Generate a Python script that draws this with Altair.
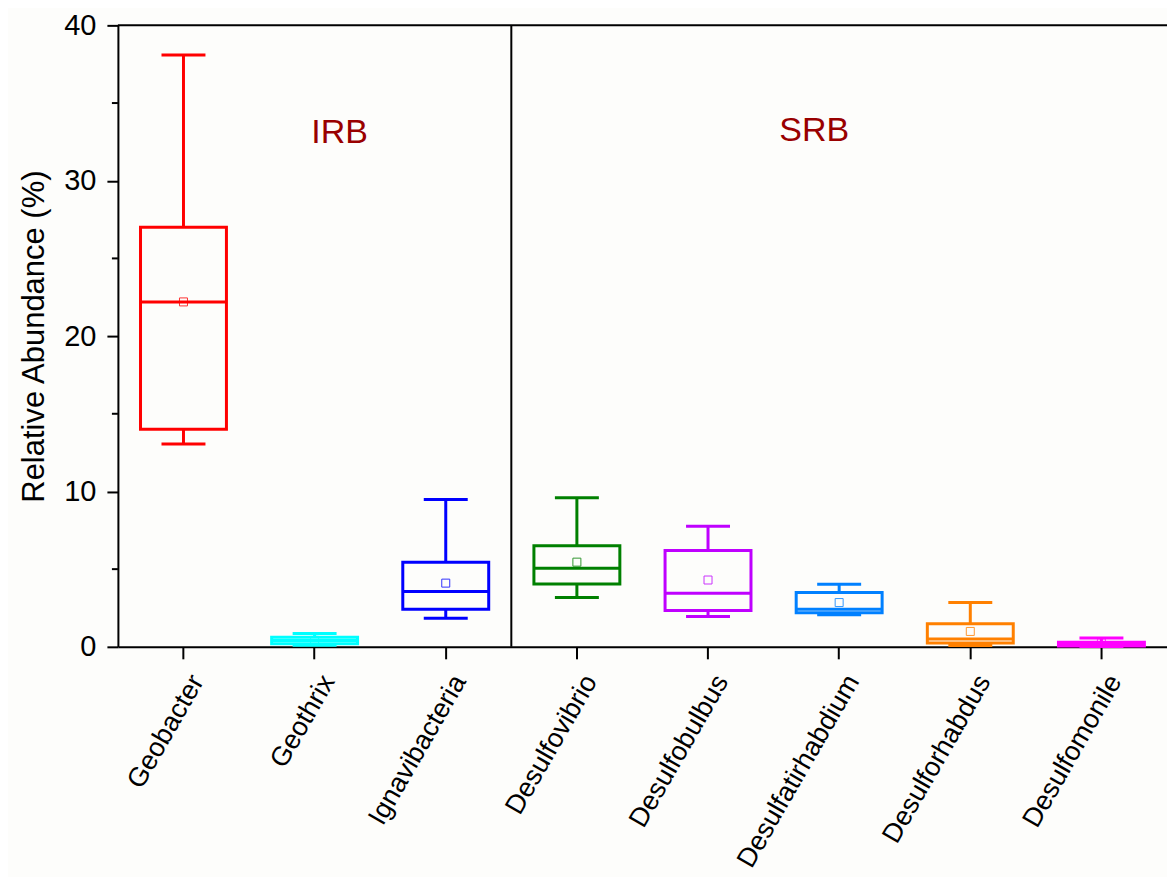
import altair as alt
import pandas as pd

categories = ["Geobacter", "Geothrix", "Ignavibacteria", "Desulfovibrio",
              "Desulfobulbus", "Desulfatirhabdium", "Desulforhabdus", "Desulfomonile"]
whisker_low = [13.05, 0.10, 1.84, 3.17, 1.95, 2.06, 0.08, 0.02]
q1 = [14.0, 0.20, 2.42, 4.05, 2.33, 2.20, 0.24, 0.06]
median = [22.2, 0.40, 3.56, 5.06, 3.45, 2.42, 0.50, 0.20]
q3 = [27.0, 0.62, 5.45, 6.50, 6.20, 3.50, 1.48, 0.30]
whisker_high = [38.1, 0.86, 9.49, 9.60, 7.76, 4.03, 2.85, 0.56]
mean = [22.2, 0.42, 4.10, 5.45, 4.30, 2.85, 0.99, 0.25]
colors = ["#FF0000", "#00FFFF", "#0000FF", "#008000",
          "#BF00FF", "#0080FF", "#FF8000", "#FF00FF"]
group_labels = ["IRB", "SRB"]
group_anchor = ["Geothrix", "Desulfatirhabdium"]
group_y = [33.1, 33.2]
minor_ticks = [5, 15, 25, 35]

df = pd.DataFrame({"cat": categories, "lo": whisker_low, "q1": q1, "med": median,
                   "q3": q3, "hi": whisker_high, "mean": mean})

FONT = "Liberation Sans"
xenc = alt.X("cat:N", sort=categories,
             scale=alt.Scale(domain=categories, paddingInner=0, paddingOuter=0),
             axis=alt.Axis(title=None, labelAngle=-60, labelAlign="right", labelBaseline="middle",
                           labelFont=FONT, labelFontSize=27, labelColor="black",
                           labelPadding=18, labelOffset=14, tickSize=12, tickWidth=2, tickColor="black",
                           domainColor="black", domainWidth=2, labelLimit=500))
yscale = alt.Scale(domain=[0, 40], nice=False, zero=True)
stroke = alt.Stroke("cat:N", scale=alt.Scale(domain=categories, range=colors), legend=None)
color = alt.Color("cat:N", scale=alt.Scale(domain=categories, range=colors), legend=None)
xs = alt.X("cat:N", sort=categories)

base = alt.Chart(df)

boxes = base.mark_bar(size=86, fill="transparent", strokeWidth=3).encode(
    x=xenc,
    y=alt.Y("q1:Q", scale=yscale,
            axis=alt.Axis(title="Relative Abundance (%)", values=[0, 10, 20, 30, 40],
                          labelFont=FONT, labelFontSize=29, labelColor="black",
                          titleFont=FONT, titleFontSize=31, titleFontWeight="normal",
                          titleColor="black", titlePadding=13,
                          tickSize=11, tickWidth=2, tickColor="black",
                          domainColor="black", domainWidth=2, grid=False, labelPadding=11)),
    y2="q3:Q",
    stroke=stroke,
)
upper = base.mark_rule(strokeWidth=3).encode(x=xs, y="q3:Q", y2="hi:Q", stroke=stroke)
lower = base.mark_rule(strokeWidth=3).encode(x=xs, y="lo:Q", y2="q1:Q", stroke=stroke)
cap_hi = base.mark_tick(size=44, thickness=3, opacity=1).encode(x=xs, y="hi:Q", color=color)
cap_lo = base.mark_tick(size=44, thickness=3, opacity=1).encode(x=xs, y="lo:Q", color=color)
med = base.mark_tick(size=86, thickness=3, opacity=1).encode(x=xs, y="med:Q", color=color)
mean_pt = base.mark_point(shape="square", size=64, filled=False, strokeWidth=1, opacity=0.8).encode(
    x=xs, y="mean:Q", stroke=stroke)

divider = alt.Chart(pd.DataFrame({"cat": ["Desulfovibrio"]})).mark_rule(color="black", strokeWidth=2).encode(
    x=alt.X("cat:N", sort=categories, bandPosition=0))
top_line = alt.Chart(pd.DataFrame({"v": [40]})).mark_rule(color="black", strokeWidth=2).encode(y="v:Q")
minor = alt.Chart(pd.DataFrame({"v": minor_ticks})).mark_rule(color="black", strokeWidth=2).encode(
    y="v:Q", x=alt.value(-6), x2=alt.value(0))

gdf = pd.DataFrame({"cat": group_anchor, "label": group_labels, "y": group_y})
text1 = alt.Chart(gdf.iloc[[0]]).mark_text(font=FONT, fontSize=34, color="#990000", dx=25).encode(
    x=xs, y="y:Q", text="label:N")
text2 = alt.Chart(gdf.iloc[[1]]).mark_text(font=FONT, fontSize=34, color="#990000", dx=-25).encode(
    x=xs, y="y:Q", text="label:N")

chart = alt.layer(boxes, upper, lower, cap_hi, cap_lo, med, mean_pt, divider, top_line, minor, text1, text2).properties(
    width=1050, height=622,
    autosize=alt.AutoSizeParams(type="none"),
    padding={"left": 110, "top": 17, "right": 0, "bottom": 230},
    background="#FDFDFB",
).configure_view(stroke=None)

chart.save("out.html", embed_options={"renderer": "svg", "actions": False})
